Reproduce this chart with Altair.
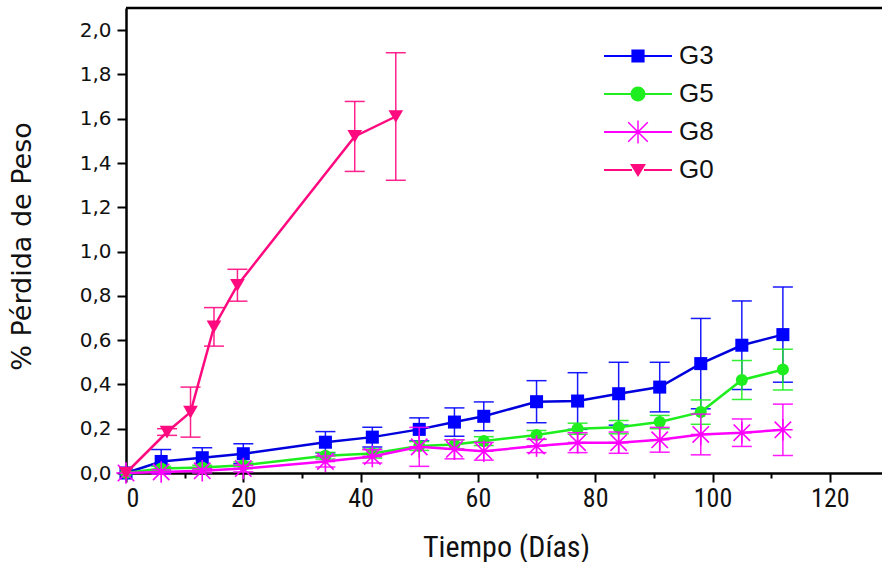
import math
import altair as alt
import pandas as pd

# Weight-loss measurements (mean ± deviation) per group
series_names = ["G3", "G5", "G8", "G0"]

dias_g3 = [0, 6, 13, 20, 34, 42, 50, 56, 61, 70, 77, 84, 91, 98, 105, 112]
perdida_g3 = [0.0, 0.052, 0.069, 0.087, 0.139, 0.162, 0.197, 0.230, 0.256,
              0.322, 0.325, 0.358, 0.388, 0.494, 0.577, 0.625]
error_g3 = [0.0, 0.054, 0.045, 0.045, 0.048, 0.045, 0.052, 0.064, 0.065,
            0.095, 0.128, 0.142, 0.112, 0.204, 0.200, 0.215]

dias_g5 = [0, 6, 13, 20, 34, 42, 50, 56, 61, 70, 77, 84, 91, 98, 105, 112]
perdida_g5 = [0.0, 0.020, 0.025, 0.035, 0.078, 0.088, 0.122, 0.129, 0.144,
              0.172, 0.200, 0.207, 0.230, 0.275, 0.420, 0.467]
error_g5 = [0.0, 0.010, 0.010, 0.015, 0.015, 0.020, 0.020, 0.020, 0.020,
            0.020, 0.025, 0.030, 0.030, 0.055, 0.088, 0.092]

dias_g8 = [0, 6, 13, 20, 34, 42, 50, 56, 61, 70, 77, 84, 91, 98, 105, 112]
perdida_g8 = [0.0, 0.005, 0.010, 0.020, 0.052, 0.075, 0.118, 0.107, 0.098,
              0.122, 0.137, 0.137, 0.150, 0.174, 0.182, 0.195]
error_g8 = [0.0, 0.010, 0.010, 0.015, 0.025, 0.030, 0.088, 0.043, 0.040,
            0.030, 0.045, 0.048, 0.056, 0.092, 0.062, 0.116]

dias_g0 = [0, 7, 11, 15, 19, 39, 46]
perdida_g0 = [0.0, 0.185, 0.275, 0.660, 0.848, 1.520, 1.610]
error_g0 = [0.0, 0.015, 0.113, 0.087, 0.072, 0.158, 0.288]

colores = {"G3": "#0000ff", "G5": "#1eee1e", "G8": "#ff00ff", "G0": "#ff0a7f"}
colores_linea = {"G3": "#0000dd", "G5": "#1eee1e", "G8": "#ff00ff", "G0": "#ff0a7f"}

X_MAX = 128.9
Y_MAX = 2.1

rows = []
for name, xs, ys, es in [("G3", dias_g3, perdida_g3, error_g3),
                         ("G5", dias_g5, perdida_g5, error_g5),
                         ("G8", dias_g8, perdida_g8, error_g8),
                         ("G0", dias_g0, perdida_g0, error_g0)]:
    for x, y, e in zip(xs, ys, es):
        rows.append({"serie": name, "dia": x, "perdida": y,
                     "lo": y - e, "hi": y + e, "err": e})
df = pd.DataFrame(rows)


# ---- symbol paths (unit box, filled) ----
def rect(x0, y0, x1, y1):
    return f"M{x0},{y0}L{x1},{y0}L{x1},{y1}L{x0},{y1}Z"


def bar(angle_deg, half_len, half_w):
    a = math.radians(angle_deg)
    c, s = math.cos(a), math.sin(a)
    pts = [(-half_len, -half_w), (half_len, -half_w), (half_len, half_w), (-half_len, half_w)]
    rp = [(px * c - py * s, px * s + py * c) for px, py in pts]
    return "M" + "L".join(f"{px:.3f},{py:.3f}" for px, py in rp) + "Z"


LINE_W = 0.085
LINE_L = 2.83
line_sides = rect(-LINE_L, -LINE_W, -0.5, LINE_W) + rect(0.5, -LINE_W, LINE_L, LINE_W)
line_full = rect(-LINE_L, -LINE_W, LINE_L, LINE_W)

leg_g3 = line_sides + rect(-0.55, -0.55, 0.55, 0.55)
leg_g5 = line_sides + "M-0.62,0A0.62,0.62 0 1,1 0.62,0A0.62,0.62 0 1,1 -0.62,0Z"
leg_g8 = line_full + bar(90, 0.95, 0.06) + bar(45, 1.15, 0.06) + bar(-45, 1.15, 0.06)
leg_g0 = line_sides + "M-0.66,-0.5L0.66,-0.5L0,0.58Z"

asterisco = "M0,-1.05V1.05M-0.8,-0.8L0.8,0.8M-0.8,0.8L0.8,-0.8M-0.95,0H0.95"

marcadores = {"G3": "square", "G5": "circle", "G8": asterisco, "G0": "triangle-down"}
tamanos = {"G3": 170, "G5": 145, "G8": 420, "G0": 215}

# ---- scales & axes ----
x_scale = alt.Scale(domain=[0, X_MAX], nice=False, zero=False)
y_scale = alt.Scale(domain=[0, Y_MAX], nice=False, zero=False)

narrow_font = "Liberation Sans Narrow, Arial Narrow, Roboto Condensed, sans-serif"
wide_font = "DejaVu Sans, Verdana, sans-serif"

x_axis = alt.Axis(
    values=list(range(0, 130, 10)),
    labelExpr="datum.value % 20 == 0 ? datum.label : ''",
    title="Tiempo (Días)",
    titleFont=narrow_font, titleFontSize=30, titleFontWeight="normal", titleColor="#111",
    titleX=380, titleY=74, titleBaseline="middle",
    labelFont=narrow_font, labelFontSize=26, labelColor="#111", labelPadding=3,
    tickSize={"condition": {"test": "datum.value % 20 == 0", "value": 9}, "value": 5},
    tickWidth=2, tickColor="black", domainColor="black", domainWidth=2.5,
    grid=False, format="d",
)

y_axis = alt.Axis(
    values=[round(i * 0.1, 1) for i in range(0, 21)],
    labelExpr="round(datum.value * 10) % 2 == 0 ? replace(format(datum.value, '.1f'), '.', ',') : ''",
    title="% Pérdida de Peso",
    titleFont=wide_font, titleFontSize=27, titleFontWeight="normal",
    titleColor="#111", titleX=-104, titleY=238, titleBaseline="middle",
    labelFont=wide_font, labelFontSize=20, labelColor="#111", labelPadding=6,
    tickSize={"condition": {"test": "round(datum.value * 10) % 2 == 0", "value": 9}, "value": 5},
    tickWidth=2, tickColor="black", domainColor="black", domainWidth=2.5,
    grid=False,
)

base = alt.Chart(df)
capas = []

for name in series_names:
    col = colores[name]
    sub = base.transform_filter(alt.datum.serie == name)
    err = sub.transform_filter(alt.datum.err > 0)
    capas.append(err.mark_rule(color=col, strokeWidth=1.5, opacity=0.9).encode(
        x=alt.X("dia:Q", scale=x_scale, axis=x_axis),
        y=alt.Y("lo:Q", scale=y_scale, axis=y_axis),
        y2="hi:Q",
    ))
    for campo in ["lo", "hi"]:
        capas.append(err.mark_tick(color=col, orient="horizontal", size=20,
                                   thickness=1.5, opacity=0.9).encode(
            x="dia:Q", y=f"{campo}:Q",
        ))
    capas.append(sub.mark_line(color=colores_linea[name], strokeWidth=2.5).encode(
        x="dia:Q", y="perdida:Q", order="dia:Q",
    ))
    if name == "G8":
        capas.append(sub.mark_point(shape=marcadores[name], size=tamanos[name],
                                    filled=False, color=col, strokeWidth=1.6,
                                    opacity=1).encode(x="dia:Q", y="perdida:Q"))
    else:
        capas.append(sub.mark_point(shape=marcadores[name], size=tamanos[name],
                                    filled=True, color=col, opacity=1).encode(
            x="dia:Q", y="perdida:Q"))

# top frame line
marco = alt.Chart(pd.DataFrame({"x0": [0.0], "x1": [X_MAX], "y": [Y_MAX]})).mark_rule(
    color="black", strokeWidth=2.5
).encode(x="x0:Q", x2="x1:Q", y="y:Q")
capas.append(marco)

# legend (symbols combine the line and the marker)
leyenda = alt.Chart(pd.DataFrame({"serie": series_names})).transform_filter(
    "datum.serie == 'ninguna'"
).mark_point(filled=True, size=576, opacity=1).encode(
    color=alt.Color("serie:N",
                    scale=alt.Scale(domain=series_names,
                                    range=[colores[s] for s in series_names]),
                    legend=alt.Legend(
                        title=None, orient="none", legendX=499, legendY=35,
                        labelFont="Liberation Sans, Arial, sans-serif", labelFontSize=26,
                        labelColor="#111", labelOffset=28, rowPadding=12,
                        symbolSize=576, symbolStrokeWidth=0, padding=0,
                        symbolOpacity=1)),
    shape=alt.Shape("serie:N",
                    scale=alt.Scale(domain=series_names,
                                    range=[leg_g3, leg_g5, leg_g8, leg_g0]),
                    legend=None),
)
capas.append(leyenda)

chart = alt.layer(*capas).properties(
    width=756, height=465,
    padding={"left": 126, "top": 8, "right": 0, "bottom": 89},
    autosize=alt.AutoSizeParams(type="none"),
).configure_view(stroke=None).configure(background="white")

chart.save("out.html", embed_options={"renderer": "svg", "actions": False})
